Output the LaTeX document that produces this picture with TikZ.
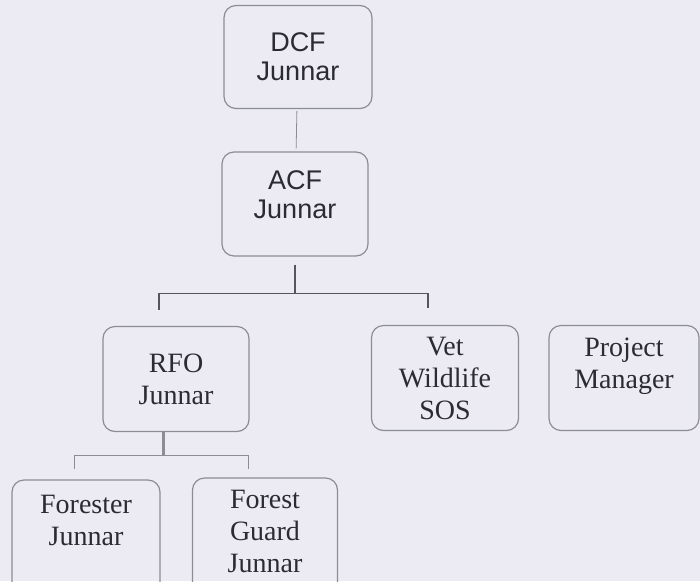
\documentclass[tikz,border=0pt]{standalone}
\usepackage{fontspec}
\setmainfont{Liberation Serif}
\newfontfamily\headfont{Liberation Sans}
\usepackage{tikz}
\definecolor{paper}{HTML}{ECEBF3}
\definecolor{ink}{HTML}{2B2B33}
\definecolor{rim}{HTML}{8C8C94}
\definecolor{linegray}{HTML}{55555C}

\tikzset{
    post/.style={draw=rim, line width=1.2pt, rounded corners=12pt, align=center, text=ink,
        minimum width=146pt, minimum height=105pt, inner sep=0pt, font=\fontsize{28}{32}\selectfont},
    headpost/.style={post, font=\headfont\fontsize{27}{29}\selectfont},
    wire/.style={draw=linegray, line width=1.6pt},
    faint/.style={draw=rim, line width=0.8pt}
}

\begin{document}
\begin{tikzpicture}[x=1pt, y=-1pt]
    \useasboundingbox (0,0) rectangle (700,581);
    \fill[paper] (0,0) rectangle (700,581);
    \clip (0,0) rectangle (700,581);

    % Draw the boxes
    \node[headpost, minimum width=148pt, minimum height=103pt] (DCF) at (298,57) {DCF\\Junnar};
    \node[headpost, minimum height=104pt, text depth=18pt] (ACF) at (295,204) {ACF\\Junnar};
    \node[post] (RFO) at (176,379) {RFO\\Junnar};
    \node[post, minimum width=147pt] (Vet) at (445,378) {Vet\\Wildlife\\SOS};
    \node[post, minimum width=150pt, text depth=30pt] (Manager) at (624,378) {Project\\Manager};
    \node[post, minimum width=148pt, minimum height=120pt, text depth=40pt] (Forester) at (86,540) {Forester\\Junnar};
    \node[post, minimum width=145pt, minimum height=120pt, text depth=14pt] (Guard) at (265,538) {Forest\\Guard\\Junnar};

    % Connect the boxes
    \draw[faint, shorten <=2pt, shorten >=3pt] (DCF) -- (ACF);

    \coordinate (ACFbus) at ([yshift=-37pt]ACF.south);
    \draw[wire, shorten <=8pt] (ACF.south) -- (ACFbus);
    \draw[wire] (ACFbus) -| ([xshift=-17pt, yshift=16pt]RFO.north);
    \draw[wire] (ACFbus) -| ([xshift=-17pt, yshift=17pt]Vet.north);

    \coordinate (RFObus) at ([xshift=-13pt, yshift=-23pt]RFO.south);
    \draw[rim, line width=3pt] ([xshift=-13pt]RFO.south) -- (RFObus);
    \draw[faint] (RFObus) -| ([xshift=-12pt, yshift=10pt]Forester.north);
    \draw[faint] (RFObus) -| ([xshift=-17pt, yshift=8pt]Guard.north);
\end{tikzpicture}
\end{document}
